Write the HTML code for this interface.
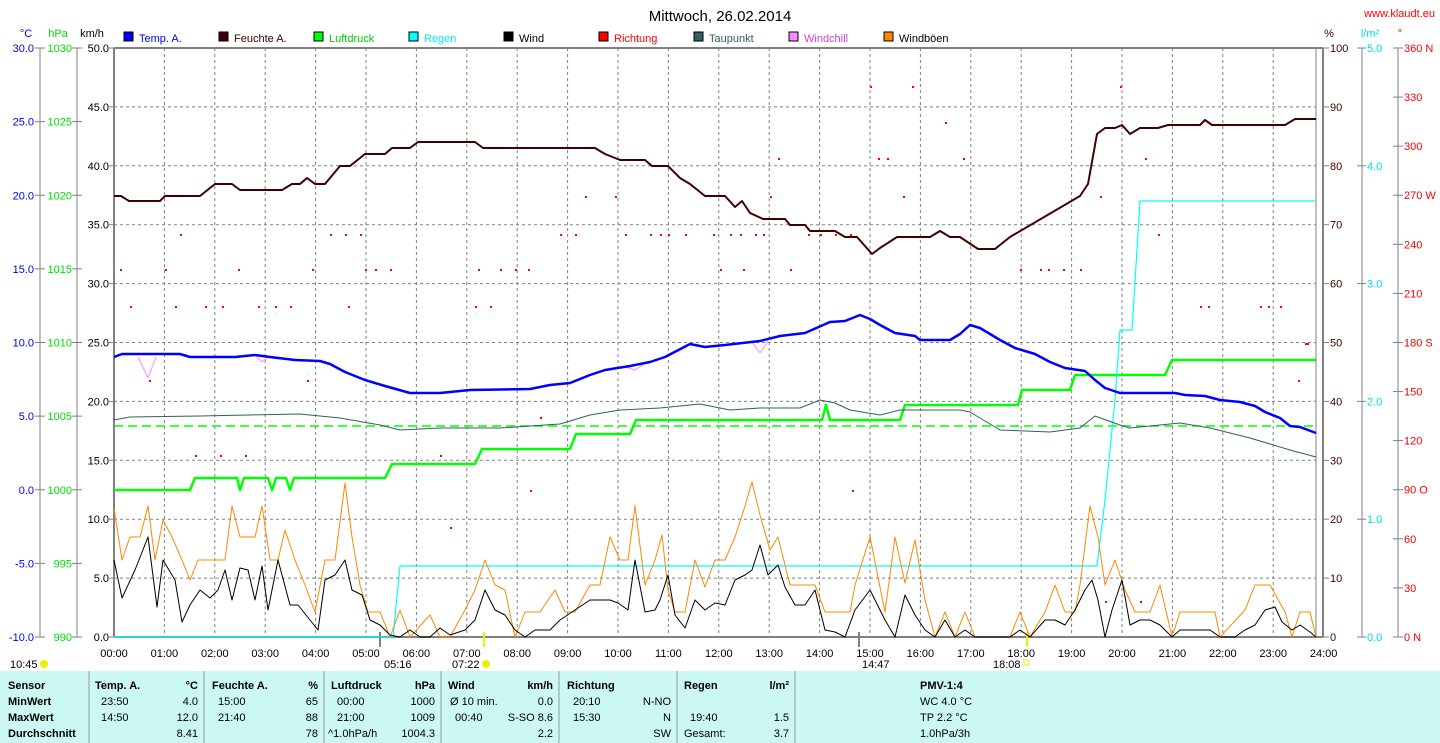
<!DOCTYPE html>
<html><head><meta charset="utf-8"><style>
body{margin:0;background:#fff;width:1440px;height:743px;overflow:hidden;font-family:"Liberation Sans",sans-serif}
svg{position:absolute;left:0;top:0}
svg text{font-family:"Liberation Sans",sans-serif;font-size:11px}
</style></head><body>
<svg id="s" width="1440" height="743" xmlns="http://www.w3.org/2000/svg"></svg>
<script>
const s=document.getElementById('s');let h='';
const X0=114,PW=50.4,T=48,B=637;
function t(x,y,str,c,a,extra){h+=`<text x="${x}" y="${y}" fill="${c||'#000'}" text-anchor="${a||'start'}" ${extra||''}>${str}</text>`;}
function l(x1,y1,x2,y2,c,w,d){h+=`<line x1="${x1}" y1="${y1}" x2="${x2}" y2="${y2}" stroke="${c}" stroke-width="${w||1}" ${d?`stroke-dasharray="${d}"`:''}/>`;}
function pl(pts,c,w){h+=`<polyline fill="none" stroke="${c}" stroke-width="${w}" stroke-linejoin="round" points="${pts.join(' ')}"/>`;}
t(720,21,'Mittwoch, 26.02.2014','#000','middle','style="font-size:15px"');
t(1435,17,'www.klaudt.eu','#f00','end','style="font-size:11px"');
t(26,37,'°C','#00f','middle');t(58,37,'hPa','#0d0','middle');t(92,37,'km/h','#000','middle');
t(1329,37,'%','#400','middle');t(1370,37,'l/m²','#0dd','middle');t(1400,37,'°','#f00','middle');
const lg=[['Temp. A.','#00f','#00f'],['Feuchte A.','#400000','#400000'],['Luftdruck','#0f0','#0c0'],['Regen','#0ff','#0ee'],['Wind','#000','#000'],['Richtung','#f00','#f00'],['Taupunkt','#306060','#306060'],['Windchill','#f8f','#c4c'],['Windböen','#f80','#000']];
lg.forEach((g,i)=>{const x=124+i*95;h+=`<rect x="${x}" y="32" width="9" height="9" fill="${g[1]}" stroke="#000"/>`;t(x+15,42,g[0],g[2]);});
for(let i=1;i<24;i++){const x=X0+i*PW;l(x,T,x,B,'#808080',1,'3,3');}
for(let i=1;i<10;i++){const y=T+i*58.9;l(X0,y,1316,y,'#808080',1,'3,3');}
l(40,T,40,B,'#808080');l(77,T,77,B,'#808080');
for(let i=0;i<=8;i++){const y=T+i*73.625;const c=30-5*i;t(34,y+4,c.toFixed(1),'#00f','end');l(35,y,45,y,'#808080');t(72,y+4,1030-5*i,'#0d0','end');l(72,y,82,y,'#808080');}
for(let i=0;i<=10;i++){const y=T+i*58.9;t(109,y+4,(50-5*i).toFixed(1),'#000','end');l(108,y,114,y,'#808080');
 t(1330,y+4,100-10*i,'#400','start');l(1323,y,1329,y,'#808080');}
l(1362,T,1362,B,'#808080');l(1398,T,1398,B,'#808080');
for(let i=0;i<=5;i++){const y=T+i*117.8;t(1367,y+4,(5-i).toFixed(1),'#0dd','start');l(1357,y,1366,y,'#808080');}
const dl=['360 N','330','300','270 W','240','210','180 S','150','120','90 O','60','30','0   N'];
for(let i=0;i<=12;i++){const y=T+i*49.08;t(1404,y+4,dl[i],'#f00','start');l(1393,y,1403,y,'#808080');}
l(X0,T,1323,T,'#808080',2);l(X0,T,X0,B,'#808080',2);l(X0,B,1323,B,'#808080',2);l(1323,T,1323,B,'#808080',2);l(1316,T,1316,B,'#808080',1);
for(let i=0;i<=24;i++){const x=X0+i*PW;t(x,657,String(i).padStart(2,'0')+':00','#000','middle');}
l(380,632,380,647,'#808080',2);l(484,632,484,647,'#ee0',2);l(859,632,859,647,'#808080',2);l(1027,632,1027,647,'#ee0',2);
t(10,668,'10:45');h+='<circle cx="44" cy="664" r="4" fill="#ee0"/>';
t(384,668,'05:16');t(452,668,'07:22');h+='<circle cx="486" cy="664" r="4" fill="#ee0"/>';
t(862,668,'14:47');t(993,668,'18:08');h+='<rect x="1024" y="660" width="5" height="5" fill="none" stroke="#ee0"/>';
const dd=[[120,269],[149,380],[165,269],[180,234],[195,455],[220,455],[238,269],[245,455],[312,269],[330,234],[345,234],[360,234],[365,269],[375,269],[390,269],[130,306],[175,306],[205,306],[222,306],[258,306],[275,306],[290,306],[348,306],[307,380],[440,455],[450,527],[475,306],[490,306],[478,269],[500,269],[515,269],[528,269],[560,234],[575,234],[585,196],[615,196],[625,234],[650,234],[660,234],[668,234],[685,234],[713,234],[730,234],[740,234],[755,234],[763,234],[720,269],[743,269],[790,269],[808,234],[820,234],[835,234],[850,234],[870,86],[878,158],[887,158],[903,196],[912,86],[945,122],[963,158],[1020,269],[1040,269],[1048,269],[1063,269],[1080,269],[1120,86],[1145,158],[1158,234],[1200,306],[1208,306],[1260,306],[1268,306],[1280,306],[1298,380],[1307,343],[778,158],[770,196],[1140,601],[852,490],[1100,196],[530,490],[540,417],[1105,601],[1305,343]];
dd.forEach(p=>h+=`<rect x="${p[0]}" y="${p[1]}" width="2" height="2" fill="#f00"/>`);
pl([114,490,190,490,195,478,237,478,240,490,244,478,268,478,272,490,276,478,286,478,290,490,294,478,385,478,392,464,475,464,482,449,570,449,576,434,630,434,636,420,822,420,826,405,830,420,900,420,905,405,1018,405,1022,390,1070,390,1075,375,1165,375,1172,360,1316,360],'#0f0',2.5);
l(X0,426,1316,426,'#0f0',1.5,'9,5');
pl([114,637,393,637,400,566,1097,566,1105,500,1115,400,1120,330,1132,330,1140,201,1316,201],'#0ff',1.2);
pl([114,420,130,417,200,416,300,414,340,418,380,425,400,430,440,428,500,428,560,424,590,415,620,410,660,408,700,404,730,410,760,408,800,408,820,400,835,403,850,410,880,415,900,410,960,410,970,412,1000,430,1050,432,1080,428,1095,416,1120,425,1130,428,1180,423,1210,428,1250,438,1290,450,1316,457],'#306060',1);
pl([138,357,148,378,156,357],'#f8f',1);pl([256,356,262,362,268,357],'#f8f',1);pl([626,367,635,370,644,364],'#f8f',1);pl([752,342,760,353,768,341],'#f8f',1);
pl([114,357,122,354,180,354,190,357,235,357,255,355,270,357,295,360,320,361,330,364,345,372,365,380,385,386,410,393,440,393,470,390,530,389,550,385,570,383,590,375,605,370,630,366,650,362,665,357,690,344,705,347,725,345,760,341,780,336,805,333,830,322,845,321,860,315,870,319,880,325,895,333,915,336,920,340,950,340,960,334,970,325,980,328,1000,340,1015,348,1035,354,1050,362,1065,368,1085,371,1095,380,1105,388,1120,393,1175,393,1185,395,1205,396,1220,400,1240,402,1255,406,1265,412,1280,418,1290,426,1300,427,1316,433],'#00f',2.5);
pl([114,196,121,196,129,201,160,201,165,196,200,196,215,184,232,184,240,190,282,190,292,184,300,184,307,178,315,184,325,184,340,166,350,166,365,154,385,154,392,148,410,148,418,142,475,142,483,148,595,148,605,154,620,160,645,160,652,166,668,166,680,178,690,184,705,196,725,196,735,207,742,201,750,213,763,219,785,219,790,225,805,225,810,231,835,231,845,237,857,237,872,254,880,248,897,237,930,237,940,231,950,237,960,237,978,249,995,249,1010,237,1080,196,1088,184,1097,134,1105,128,1115,128,1122,125,1130,134,1140,128,1158,128,1168,125,1200,125,1205,120,1212,125,1285,125,1295,119,1316,119],'#400000',2);
pl([114,508,122,560,130,537,140,537,148,506,155,560,163,520,172,537,182,560,190,580,198,560,225,560,232,506,240,537,255,537,262,506,270,560,278,560,285,530,295,560,305,585,315,612,325,560,335,560,345,483,352,537,360,585,368,612,380,612,390,637,400,610,410,637,430,615,440,637,450,637,465,610,475,590,485,560,495,585,505,590,515,637,525,612,540,612,555,590,565,612,575,612,590,585,600,585,610,537,620,560,628,560,635,506,645,585,655,560,662,535,668,590,675,612,685,612,695,560,705,587,715,560,725,560,735,537,745,506,752,482,760,515,770,550,778,537,790,585,800,585,815,585,825,612,850,612,855,585,870,537,885,612,895,537,905,583,915,540,925,600,935,637,945,612,955,637,965,612,975,637,1010,637,1020,612,1030,637,1045,612,1055,585,1065,612,1075,612,1080,585,1090,506,1098,537,1105,585,1115,560,1125,590,1135,612,1150,612,1160,585,1172,637,1180,612,1215,612,1220,637,1245,610,1255,585,1270,585,1285,612,1292,637,1300,612,1310,612,1316,637],'#f80',1);
pl([114,560,122,598,135,570,148,537,157,607,163,560,175,580,182,622,190,605,200,590,210,598,218,590,225,570,232,600,240,568,248,570,255,600,262,566,268,610,278,560,290,605,298,605,310,620,318,630,325,580,335,575,345,560,352,590,362,595,370,620,380,625,390,635,400,637,410,630,420,637,430,637,440,628,450,635,465,630,475,620,485,590,495,610,505,615,515,630,525,637,535,630,550,630,560,620,575,610,590,600,610,600,618,603,628,610,635,560,645,612,655,610,660,600,668,575,675,615,685,628,695,600,705,610,715,603,725,605,735,580,745,575,752,570,760,545,768,575,778,565,785,587,795,605,805,605,815,590,825,630,835,632,845,637,855,610,870,590,885,620,895,637,905,595,915,615,925,630,935,637,945,620,955,637,965,630,975,637,1010,637,1020,630,1030,637,1045,620,1055,620,1065,625,1075,610,1085,590,1092,580,1098,600,1105,637,1112,610,1122,580,1130,625,1140,620,1150,620,1160,625,1172,637,1180,630,1210,630,1220,637,1235,637,1245,630,1255,625,1265,610,1275,607,1282,622,1292,630,1300,625,1310,632,1316,637],'#000',1);
h+='<rect x="0" y="671" width="1440" height="72" fill="#ccf8f4"/>';
[89,204,324,441,559,677,795].forEach(x=>l(x,671,x,743,'#999',1));
const B1='font-weight="bold"';
const rows=[685,701,717,733];
['Sensor','MinWert','MaxWert','Durchschnitt'].forEach((s,i)=>t(8,rows[i]+4,s,'#000','start',B1));
function col(x1,x2,hd,unit,v){t(x1,rows[0]+4,hd,'#000','start',B1);t(x2,rows[0]+4,unit,'#000','end',B1);v.forEach((r,i)=>{t(x1+6,rows[i+1]+4,r[0]);t(x2,rows[i+1]+4,r[1],'#000','end');});}
col(95,198,'Temp. A.','°C',[['23:50','4.0'],['14:50','12.0'],['','8.41']]);
col(212,318,'Feuchte A.','%',[['15:00','65'],['21:40','88'],['','78']]);
col(331,435,'Luftdruck','hPa',[['00:00','1000'],['21:00','1009'],['','1004.3']]);
t(328,737,'^1.0hPa/h');
col(448,553,'Wind','km/h',[['','0.0'],['','S-SO 8.6'],['','2.2']]);
t(450,705,'Ø 10 min.');t(455,721,'00:40');
col(567,671,'Richtung','',[['20:10','N-NO'],['15:30','N'],['','SW']]);
col(684,789,'Regen','l/m²',[['',''],['19:40','1.5'],['','3.7']]);
t(684,737,'Gesamt:');
t(920,689,'PMV-1:4','#000','start',B1);t(920,705,'WC 4.0 °C');t(920,721,'TP 2.2 °C');t(920,737,'1.0hPa/3h');
s.innerHTML=h;
</script>
</body></html>
